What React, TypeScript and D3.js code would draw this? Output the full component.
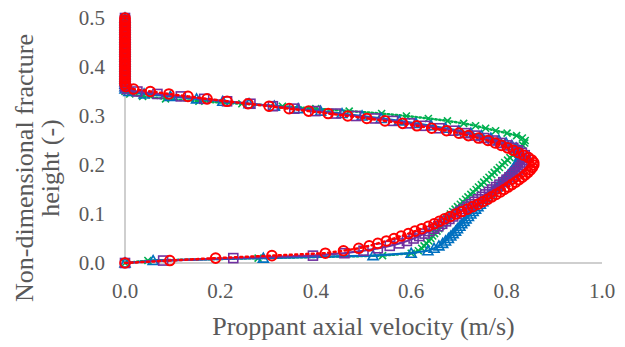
import React from "react";
import * as d3 from "d3";

// Non-dimensional fracture height (y) sampled for every series
const heights = [
  0, 0.005, 0.01, 0.015, 0.02, 0.025, 0.03, 0.035, 0.04, 0.045,
  0.05, 0.055, 0.06, 0.065, 0.07, 0.075, 0.08, 0.085, 0.09, 0.095,
  0.1, 0.105, 0.11, 0.115, 0.12, 0.125, 0.13, 0.135, 0.14, 0.145,
  0.15, 0.155, 0.16, 0.165, 0.17, 0.175, 0.18, 0.185, 0.19, 0.195,
  0.2, 0.205, 0.21, 0.215, 0.22, 0.225, 0.23, 0.235, 0.24, 0.245,
  0.25, 0.255, 0.26, 0.265, 0.27, 0.275, 0.28, 0.285, 0.29, 0.295,
  0.3, 0.305, 0.31, 0.315, 0.32, 0.325, 0.33, 0.335, 0.34, 0.345,
  0.35, 0.355, 0.36, 0.365, 0.37, 0.375, 0.38, 0.385, 0.39, 0.395,
  0.4, 0.405, 0.41, 0.415, 0.42, 0.425, 0.43, 0.435, 0.44, 0.445,
  0.45, 0.455, 0.46, 0.465, 0.47, 0.475, 0.48, 0.485, 0.49, 0.495,
  0.5,
];

// Proppant axial velocity (m/s) for each series at the heights above
const greenVel = [
  0, 0.048, 0.279, 0.54, 0.6, 0.615, 0.622, 0.627, 0.632, 0.637,
  0.641, 0.645, 0.649, 0.654, 0.658, 0.662, 0.666, 0.67, 0.674, 0.678,
  0.682, 0.687, 0.692, 0.697, 0.703, 0.708, 0.714, 0.719, 0.725, 0.73,
  0.736, 0.741, 0.747, 0.752, 0.758, 0.763, 0.769, 0.774, 0.78, 0.785,
  0.791, 0.796, 0.802, 0.807, 0.813, 0.818, 0.824, 0.829, 0.834, 0.838,
  0.839, 0.833, 0.821, 0.801, 0.777, 0.756, 0.735, 0.71, 0.676, 0.636,
  0.59, 0.538, 0.47, 0.4, 0.33, 0.245, 0.155, 0.085, 0.037, 0.01,
  0, 0, 0, 0, 0, 0, 0, 0, 0, 0,
  0, 0, 0, 0, 0, 0, 0, 0, 0, 0,
  0, 0, 0, 0, 0, 0, 0, 0, 0, 0,
  0,
];

const blueVel = [
  0, 0.059, 0.29, 0.52, 0.6, 0.635, 0.648, 0.658, 0.666, 0.672,
  0.678, 0.683, 0.688, 0.693, 0.697, 0.702, 0.706, 0.711, 0.715, 0.72,
  0.725, 0.73, 0.735, 0.74, 0.745, 0.75, 0.755, 0.76, 0.765, 0.77,
  0.775, 0.78, 0.785, 0.79, 0.795, 0.8, 0.804, 0.808, 0.812, 0.816,
  0.819, 0.822, 0.825, 0.827, 0.829, 0.829, 0.826, 0.82, 0.811, 0.799,
  0.784, 0.767, 0.747, 0.725, 0.7, 0.672, 0.642, 0.61, 0.575, 0.537,
  0.497, 0.455, 0.41, 0.363, 0.313, 0.26, 0.205, 0.15, 0.095, 0.04,
  0.008, 0, 0, 0, 0, 0, 0, 0, 0, 0,
  0, 0, 0, 0, 0, 0, 0, 0, 0, 0,
  0, 0, 0, 0, 0, 0, 0, 0, 0, 0,
  0,
];

const purpleVel = [
  0, 0.08, 0.227, 0.394, 0.46, 0.5, 0.53, 0.555, 0.575, 0.591,
  0.605, 0.617, 0.628, 0.638, 0.648, 0.657, 0.665, 0.673, 0.68, 0.688,
  0.695, 0.703, 0.71, 0.718, 0.725, 0.733, 0.74, 0.748, 0.755, 0.763,
  0.77, 0.778, 0.785, 0.793, 0.8, 0.806, 0.812, 0.818, 0.823, 0.828,
  0.832, 0.836, 0.839, 0.84, 0.838, 0.832, 0.824, 0.814, 0.801, 0.787,
  0.771, 0.753, 0.734, 0.713, 0.688, 0.659, 0.629, 0.597, 0.562, 0.524,
  0.484, 0.442, 0.399, 0.355, 0.31, 0.263, 0.214, 0.166, 0.117, 0.068,
  0.026, 0.004, 0, 0, 0, 0, 0, 0, 0, 0,
  0, 0, 0, 0, 0, 0, 0, 0, 0, 0,
  0, 0, 0, 0, 0, 0, 0, 0, 0, 0,
  0,
];

const redVel = [
  0, 0.094, 0.19, 0.308, 0.42, 0.458, 0.49, 0.512, 0.53, 0.548,
  0.564, 0.579, 0.594, 0.608, 0.622, 0.636, 0.648, 0.659, 0.67, 0.682,
  0.694, 0.706, 0.718, 0.729, 0.74, 0.75, 0.76, 0.769, 0.778, 0.787,
  0.795, 0.803, 0.811, 0.819, 0.826, 0.833, 0.839, 0.845, 0.85, 0.854,
  0.857, 0.857, 0.853, 0.846, 0.836, 0.825, 0.814, 0.802, 0.789, 0.776,
  0.761, 0.741, 0.72, 0.7, 0.674, 0.643, 0.612, 0.582, 0.545, 0.507,
  0.467, 0.426, 0.385, 0.344, 0.302, 0.258, 0.214, 0.172, 0.132, 0.092,
  0.053, 0.018, 0.002, 0, 0, 0, 0, 0, 0, 0,
  0, 0, 0, 0, 0, 0, 0, 0, 0, 0,
  0, 0, 0, 0, 0, 0, 0, 0, 0, 0,
  0,
];

const xTicks = [0, 0.2, 0.4, 0.6, 0.8, 1.0];
const yTicks = [0, 0.1, 0.2, 0.3, 0.4, 0.5];

const W = 625;
const H = 347;
const FONT = "'Liberation Serif', 'Times New Roman', serif";
const TEXT = "#595959";

type Marker = "x" | "triangle" | "square" | "circle";
const series: { name: string; vel: number[]; color: string; marker: Marker; dash: string | null }[] = [
  { name: "green", vel: greenVel, color: "#00B050", marker: "x", dash: "1.5 2.5" },
  { name: "blue", vel: blueVel, color: "#0070C0", marker: "triangle", dash: null },
  { name: "purple", vel: purpleVel, color: "#7030A0", marker: "square", dash: null },
  { name: "red", vel: redVel, color: "#FF0000", marker: "circle", dash: "2 3.5" },
];

function MarkerShape({ type, x, y, color }: { type: Marker; x: number; y: number; color: string }) {
  if (type === "circle") {
    return <circle cx={x} cy={y} r={4.8} fill="none" stroke={color} strokeWidth={2} />;
  }
  if (type === "square") {
    return <rect x={x - 4.5} y={y - 4.5} width={9} height={9} fill="none" stroke={color} strokeWidth={1.6} />;
  }
  if (type === "triangle") {
    const s = 5;
    return (
      <path
        d={`M${x},${y - s} L${x + s},${y + s * 0.8} L${x - s},${y + s * 0.8} Z`}
        fill="none"
        stroke={color}
        strokeWidth={1.6}
      />
    );
  }
  const s = 3.5;
  return (
    <path
      d={`M${x - s},${y - s} L${x + s},${y + s} M${x - s},${y + s} L${x + s},${y - s}`}
      stroke={color}
      strokeWidth={1.6}
    />
  );
}

export default function App() {
  const x = d3.scaleLinear().domain([0, 1]).range([125, 602]);
  const y = d3.scaleLinear().domain([0, 0.5]).range([263, 18]);

  const line = d3
    .line<number>()
    .x((d) => x(d))
    .y((_, i) => y(heights[i]));

  return (
    <svg
      width={W}
      height={H}
      style={{ position: "absolute", left: 0, top: 0, background: "#fff" }}
      fontFamily={FONT}
    >
      <rect x={0} y={0} width={W} height={H} fill="#fff" />
      {/* axes */}
      <line x1={x(0)} x2={x(0)} y1={y(0.5)} y2={y(0)} stroke="#BFBFBF" strokeWidth={1.5} />
      <line x1={x(0)} x2={x(1)} y1={y(0)} y2={y(0)} stroke="#BFBFBF" strokeWidth={1.5} />

      {/* tick labels */}
      {xTicks.map((t) => (
        <text key={"x" + t} x={x(t)} y={298} textAnchor="middle" fontSize={21} fill={TEXT}>
          {t.toFixed(1)}
        </text>
      ))}
      {yTicks.map((t) => (
        <text key={"y" + t} x={105} y={y(t) + 7} textAnchor="end" fontSize={21} fill={TEXT}>
          {t.toFixed(1)}
        </text>
      ))}

      {/* axis titles */}
      <text x={363.5} y={335} textAnchor="middle" fontSize={26} fill={TEXT}>
        Proppant axial velocity (m/s)
      </text>
      <text transform="translate(33,168) rotate(-90)" textAnchor="middle" fontSize={26} fill={TEXT}>
        Non-dimensional fracture
      </text>
      <text transform="translate(59,168) rotate(-90)" textAnchor="middle" fontSize={26} fill={TEXT}>
        height (-)
      </text>

      {/* series */}
      {series.map((s) => (
        <g key={s.name}>
          <path
            d={line(s.vel) || ""}
            fill="none"
            stroke={s.color}
            strokeWidth={s.dash ? 2.5 : 2.2}
            strokeDasharray={s.dash || undefined}
            strokeLinecap={s.dash ? "round" : "butt"}
          />
          {s.vel.map((v, i) => (
            <MarkerShape key={i} type={s.marker} x={x(v)} y={y(heights[i])} color={s.color} />
          ))}
        </g>
      ))}
    </svg>
  );
}
